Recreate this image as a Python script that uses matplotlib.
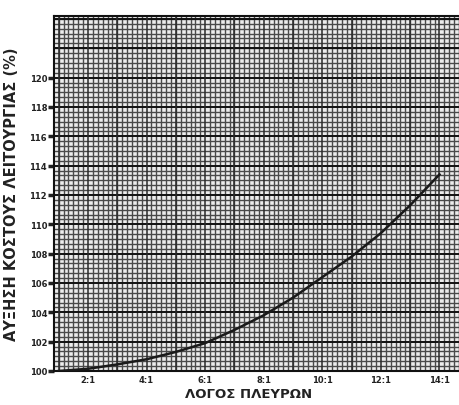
import numpy as np
import matplotlib
matplotlib.use("Agg")
import matplotlib.pyplot as plt
from matplotlib.ticker import MultipleLocator

# data
ratio = [1.0, 2, 3, 4, 5, 6, 7, 8, 9, 10, 11, 12, 13, 14]
cost_increase = [100.0, 100.15, 100.45, 100.8, 101.3, 101.9, 102.8, 103.8,
                 105.0, 106.4, 107.8, 109.4, 111.3, 113.4]
x_ticks = [2, 4, 6, 8, 10, 12, 14]
x_tick_labels = ["2:1", "4:1", "6:1", "8:1", "10:1", "12:1", "14:1"]
y_ticks = [100, 102, 104, 106, 108, 110, 112, 114, 116, 118, 120]
y_tick_labels = [str(v) for v in y_ticks]

plt.rcParams['font.family'] = ['DejaVu Sans']

fig = plt.figure(figsize=(4.6, 4.06), dpi=100)
fig.patch.set_facecolor('white')
ax = fig.add_axes([54/460, 34/406, 1 - 54/460, (372-17)/406])
ax.set_facecolor('#ececec')

ax.set_xlim(0.84, 14.7)
ax.set_ylim(100, 124.2)

ax.xaxis.set_minor_locator(MultipleLocator(1/6))
ax.yaxis.set_minor_locator(MultipleLocator(1/3))
ax.grid(which='minor', color='#4a4a4a', linewidth=1.0)
ax.set_axisbelow(True)

ax.plot(ratio, cost_increase, color='#1a1a1a', linewidth=1.8, zorder=5)

ax.set_xticks(x_ticks)
ax.set_xticklabels(x_tick_labels, fontsize=6, fontweight='bold', color='#222222')
ax.set_yticks(y_ticks)
ax.set_yticklabels(y_tick_labels, fontsize=6, fontweight='bold', color='#222222')
ax.tick_params(axis='x', which='both', length=0, pad=3)
ax.tick_params(axis='y', which='major', length=4, width=2.5, color='#222222', pad=1)
ax.tick_params(axis='y', which='minor', length=0)

# darker major lines of the graph paper
for yv in np.arange(100, 125, 2):
    ax.axhline(yv, color='#111111', linewidth=1.4, zorder=1)
for xv in range(1, 15):
    ax.axvline(xv, color='#2a2a2a', linewidth=1.1, zorder=1)

for s in ax.spines.values():
    s.set_color('#111111')
    s.set_linewidth(1.5)

ax.set_xlabel("ΛΟΓΟΣ ΠΛΕΥΡΩΝ", fontsize=9.5, fontweight='bold', color='#222222')
ax.xaxis.set_label_coords(0.478, -0.044)
ax.set_ylabel("ΑΥΞΗΣΗ ΚΟΣΤΟΥΣ ΛΕΙΤΟΥΡΓΙΑΣ (%)", fontsize=10.5, fontweight='bold',
              color='#222222')
ax.yaxis.set_label_coords(-0.085, 0.50)

fig.savefig("out.png", dpi=100)
